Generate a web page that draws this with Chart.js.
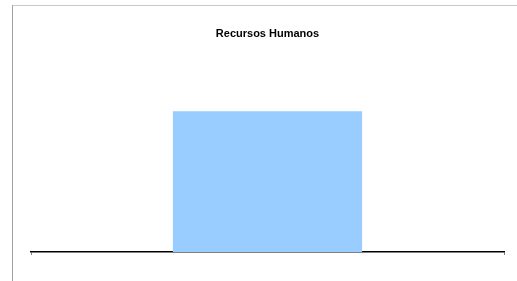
<!DOCTYPE html>
<html>
<head>
<meta charset="utf-8">
<script src="https://cdn.jsdelivr.net/npm/chart.js@4.4.0/dist/chart.umd.min.js"></script>
<style>
  html, body { margin: 0; padding: 0; background: #fff; }
  #wrap { position: relative; width: 517px; height: 281px; overflow: hidden; }
  #frame {
    position: absolute; left: 12px; top: 5px; width: 520px; height: 290px;
    border-top: 1px solid #c8c8c8; border-left: 1px solid #a0a0a0;
  }
  canvas { position: absolute; left: 0; top: 0; }
</style>
</head>
<body>
<div id="wrap">
  <div id="frame"></div>
  <canvas id="chart" width="517" height="281"></canvas>
</div>
<script>
// chart data
const chartTitle = 'Recursos Humanos';
const categories = [''];
const values = [71.5];
const yMax = 100;

const ctx = document.getElementById('chart').getContext('2d');
new Chart(ctx, {
  type: 'bar',
  data: {
    labels: categories,
    datasets: [{
      data: values,
      backgroundColor: '#99ccff',
      borderWidth: 0,
      categoryPercentage: 1,
      barPercentage: 0.4
    }]
  },
  options: {
    responsive: false,
    animation: false,
    layout: { padding: { left: 31, right: 13, top: 0, bottom: 26 } },
    scales: {
      x: {
        grid: {
          display: true,
          drawOnChartArea: false,
          drawTicks: true,
          tickLength: 3,
          color: '#808080',
          offset: true
        },
        border: { display: true, color: '#000', width: 1.5 },
        ticks: { display: false }
      },
      y: {
        display: false,
        min: 0,
        max: yMax
      }
    },
    plugins: {
      legend: { display: false },
      tooltip: { enabled: false },
      title: {
        display: true,
        text: chartTitle,
        color: '#000',
        font: { family: 'Liberation Sans', size: 11, weight: 'bold' },
        padding: { top: 27, bottom: 15 }
      }
    }
  }
});
</script>
</body>
</html>
